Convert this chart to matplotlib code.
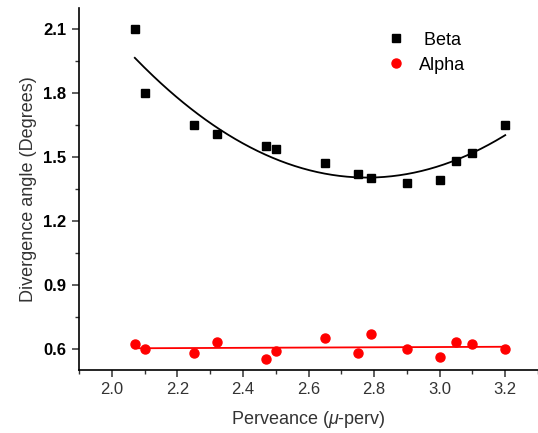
import matplotlib
matplotlib.use("Agg")
import matplotlib.pyplot as plt
import numpy as np
from matplotlib.ticker import MultipleLocator

plt.rcParams['font.family'] = ['Liberation Sans', 'DejaVu Sans']
plt.rcParams['mathtext.fontset'] = 'custom'
plt.rcParams['mathtext.it'] = 'Liberation Sans:italic'
plt.rcParams['mathtext.rm'] = 'Liberation Sans'

# perveance values (micro-perv)
perveance = [2.07, 2.10, 2.25, 2.32, 2.47, 2.50, 2.65, 2.75, 2.79, 2.90, 3.00, 3.05, 3.10, 3.20]
beta = [2.10, 1.80, 1.65, 1.61, 1.55, 1.54, 1.47, 1.42, 1.40, 1.38, 1.39, 1.48, 1.52, 1.65]
alpha = [0.62, 0.60, 0.58, 0.63, 0.55, 0.59, 0.65, 0.58, 0.67, 0.60, 0.56, 0.63, 0.62, 0.60]

x = np.array(perveance)
xs = np.linspace(x.min(), x.max(), 200)
beta_fit = np.polyval(np.polyfit(x, beta, 2), xs)
alpha_fit = np.polyval(np.polyfit(x, alpha, 1), xs)

fig = plt.figure(figsize=(5.38, 4.33), dpi=100)
ax = fig.add_axes([0.147, 0.1455, 0.853, 0.836])

ax.plot(xs, beta_fit, color='black', lw=1.3)
ax.plot(xs, alpha_fit, color='red', lw=1.3)
ax.plot(x, beta, 's', color='black', ms=6, label=' Beta', clip_on=False)
ax.plot(x, alpha, 'o', color='red', ms=6.5, label='Alpha', clip_on=False)

ax.set_xlim(1.9, 3.3)
ax.set_ylim(0.5, 2.2)
ax.xaxis.set_major_locator(MultipleLocator(0.2))
ax.xaxis.set_minor_locator(MultipleLocator(0.1))
ax.set_yticks([0.6, 0.9, 1.2, 1.5, 1.8, 2.1])
ax.yaxis.set_minor_locator(MultipleLocator(0.15))
ax.xaxis.set_major_formatter(matplotlib.ticker.FormatStrFormatter('%.1f'))
ax.yaxis.set_major_formatter(matplotlib.ticker.FormatStrFormatter('%.1f'))

ax.spines['top'].set_visible(False)
ax.spines['right'].set_visible(False)
ax.spines['left'].set_linewidth(1.2)
ax.spines['bottom'].set_linewidth(1.2)
ax.tick_params(which='major', direction='out', length=5, width=1.1, labelsize=12, color='#333333', pad=4)
ax.tick_params(which='minor', direction='out', length=3, width=1.0, color='#333333')
for lbl in ax.get_yticklabels():
    lbl.set_fontweight('bold')
for lbl in ax.get_xticklabels():
    lbl.set_color('#333333')

ax.set_xlabel(r'Perveance ($\mathit{\mu}$-perv)', fontsize=13, color='#333333', labelpad=8)
ax.set_ylabel('Divergence angle (Degrees)', fontsize=13, color='#333333', labelpad=5)

ax.legend(loc='upper left', bbox_to_anchor=(0.635, 0.955), frameon=False, fontsize=13,
          handletextpad=0.3, labelspacing=0.45, borderaxespad=0)

fig.savefig('out.png', dpi=100)
